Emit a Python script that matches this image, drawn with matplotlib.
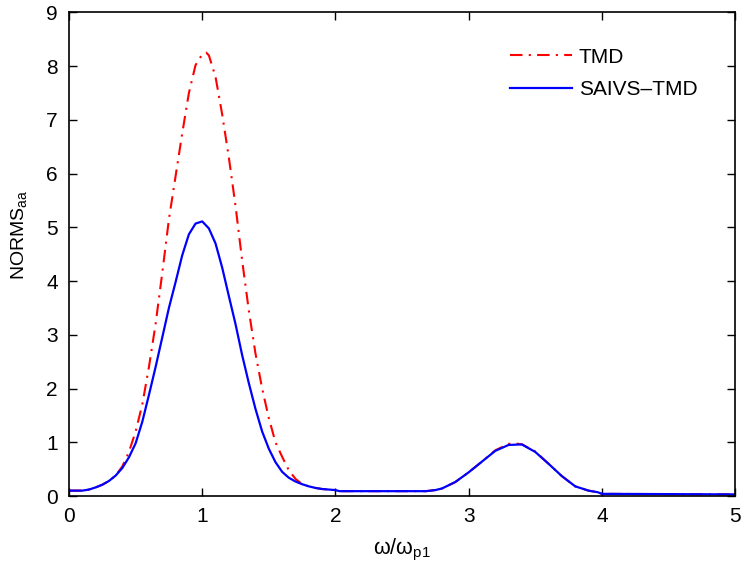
import numpy as np
import matplotlib
matplotlib.use("Agg")
import matplotlib.pyplot as plt

plt.rcParams['font.family'] = ['Liberation Sans', 'DejaVu Sans']
plt.rcParams['mathtext.fontset'] = 'custom'
plt.rcParams['mathtext.rm'] = 'Liberation Sans'
plt.rcParams['mathtext.it'] = 'Liberation Sans'

# frequency ratio
omega_saivs = [0.0, 0.05, 0.1, 0.15, 0.2, 0.25, 0.3, 0.35, 0.4, 0.45, 0.5, 0.55, 0.6, 0.65,
               0.7, 0.75, 0.8, 0.85, 0.9, 0.95, 1.0, 1.05, 1.1, 1.15, 1.2, 1.25, 1.3, 1.35,
               1.4, 1.45, 1.5, 1.55, 1.6, 1.65, 1.7, 1.75, 1.8, 1.85, 1.9, 1.95, 2.0, 2.03,
               2.3, 2.68, 2.75, 2.8, 2.9, 3.0, 3.1, 3.2, 3.3, 3.4, 3.5, 3.6, 3.7, 3.8, 3.9,
               3.97, 4.0, 4.5, 5.0]
norms_saivs = [0.10, 0.10, 0.10, 0.12, 0.16, 0.21, 0.28, 0.38, 0.52, 0.72, 0.98, 1.38, 1.88, 2.40,
               2.95, 3.50, 3.98, 4.48, 4.87, 5.07, 5.11, 4.98, 4.70, 4.25, 3.72, 3.20, 2.62, 2.10,
               1.62, 1.20, 0.88, 0.63, 0.45, 0.34, 0.27, 0.22, 0.18, 0.15, 0.13, 0.12, 0.11, 0.09,
               0.09, 0.09, 0.11, 0.14, 0.26, 0.44, 0.64, 0.84, 0.95, 0.96, 0.82, 0.60, 0.37, 0.18, 0.10,
               0.07, 0.04, 0.035, 0.03]

omega_tmd = [0.0, 0.05, 0.1, 0.15, 0.2, 0.25, 0.3, 0.35, 0.4, 0.45, 0.5, 0.55, 0.6, 0.65,
             0.7, 0.75, 0.8, 0.85, 0.9, 0.95, 1.0, 1.03, 1.05, 1.1, 1.15, 1.2, 1.25, 1.3, 1.35,
             1.4, 1.45, 1.5, 1.55, 1.6, 1.65, 1.7, 1.75, 1.8, 1.85, 1.9, 1.95, 2.0, 2.03,
             2.3, 2.68, 2.75, 2.8, 2.9, 3.0, 3.1, 3.2, 3.3, 3.35, 3.4, 3.5, 3.6, 3.7, 3.8, 3.9,
             3.97, 4.0, 4.5, 5.0]
norms_tmd = [0.10, 0.10, 0.10, 0.12, 0.16, 0.21, 0.28, 0.38, 0.55, 0.82, 1.20, 1.70, 2.40, 3.20,
             4.15, 5.15, 5.95, 6.75, 7.50, 8.02, 8.22, 8.25, 8.20, 7.80, 7.10, 6.30, 5.40, 4.38, 3.45,
             2.65, 2.00, 1.45, 1.00, 0.73, 0.48, 0.32, 0.22, 0.18, 0.15, 0.13, 0.12, 0.11, 0.09,
             0.09, 0.09, 0.11, 0.14, 0.26, 0.44, 0.64, 0.85, 0.97, 0.98, 0.96, 0.83, 0.60, 0.37, 0.18, 0.10,
             0.07, 0.04, 0.035, 0.03]

xticks = [0, 1, 2, 3, 4, 5]
yticks = [0, 1, 2, 3, 4, 5, 6, 7, 8, 9]

fig = plt.figure(figsize=(7.42, 5.63), dpi=100)
ax = fig.add_axes([0.093, 0.119, 0.8976, 0.859])

ax.plot(omega_tmd, norms_tmd, color='red', lw=1.5, linestyle=(0, (6, 3, 1, 3)), label='TMD')
ax.plot(omega_saivs, norms_saivs, color='blue', lw=1.6, label='SAIVS\u2013TMD')

ax.set_xlim(0, 5)
ax.set_ylim(0, 9)
ax.set_xticks(xticks)
ax.set_yticks(yticks)
ax.tick_params(direction='in', top=True, right=True, length=6, width=1, labelsize=15)
ax.tick_params(axis='x', pad=8)
ax.tick_params(axis='y', pad=8)
for s in ax.spines.values():
    s.set_linewidth(1.2)

ax.set_xlabel('\u03c9/\u03c9$_{\\mathregular{p1}}$', fontsize=15.5, labelpad=8)
ax.set_ylabel('NORMS$_{\\mathregular{aa}}$', fontsize=14)
ax.yaxis.set_label_coords(-0.06, 0.54)

leg = ax.legend(loc='upper left', frameon=False, fontsize=15, handlelength=3.0,
                handletextpad=0.3, borderpad=0, borderaxespad=0,
                bbox_to_anchor=(0.662, 0.927), labelspacing=0.65)

fig.savefig('out.png', dpi=100)
